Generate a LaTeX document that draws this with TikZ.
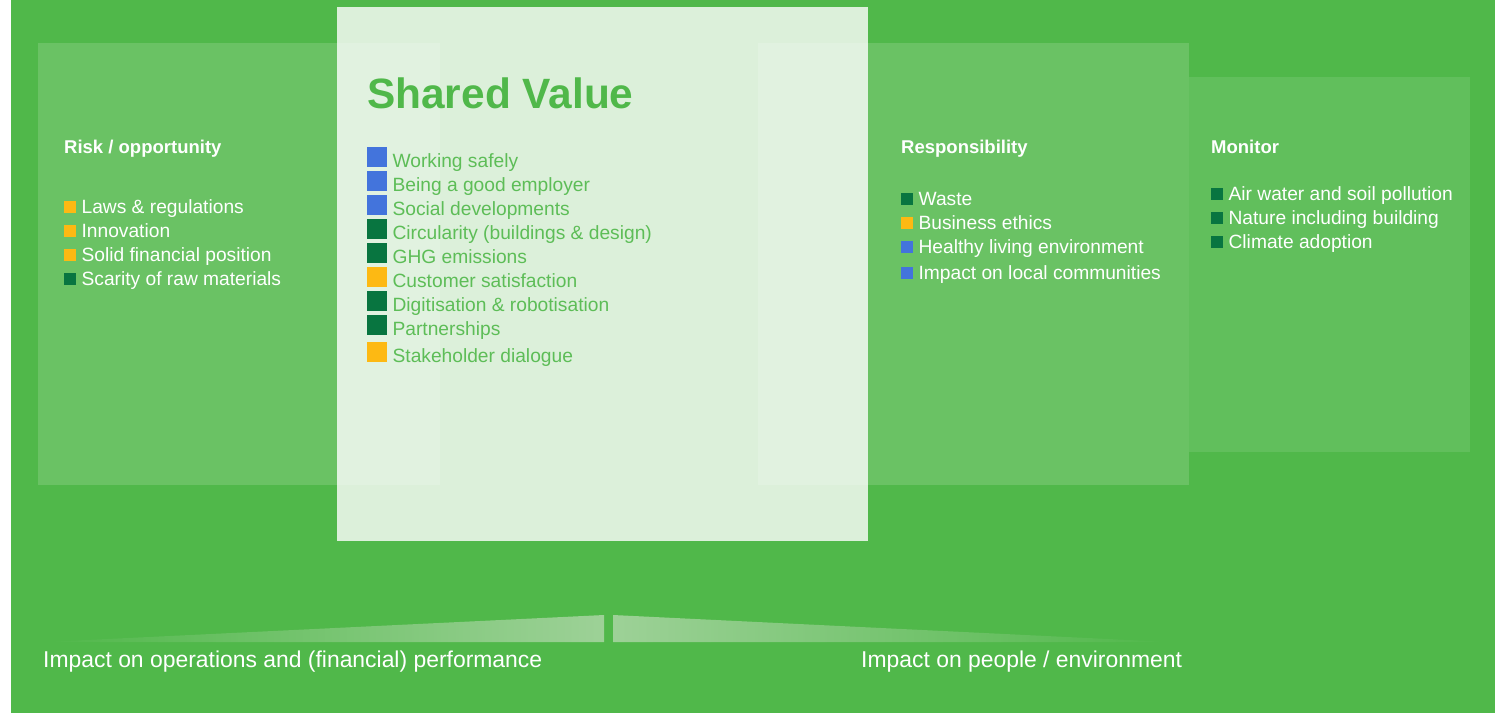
\documentclass[tikz,border=0pt]{standalone}
\usepackage{fontspec}
\setmainfont{Liberation Sans}
\usepackage{xcolor}
\usepackage{tikz}
\usetikzlibrary{positioning}

\definecolor{bggreen}{HTML}{50B84A}
\definecolor{dkgreen}{HTML}{087540}
\definecolor{sqblue}{HTML}{4374DC}
\definecolor{sqorange}{HTML}{FDB913}
\definecolor{svtext}{HTML}{5DBD57}
\definecolor{wedgelight}{HTML}{9DD197}

\tikzset{
    panel/.style = {fill = white, fill opacity = #1},
    head/.style = {anchor = base west, inner sep = 0pt, text = white,
        font = \fontsize{18.5}{20}\selectfont\bfseries},
    item/.style = {inner sep = 0pt, text = #1,
        font = \fontsize{19.2}{20}\selectfont},
    item/.default = white,
    dot/.style = {fill = #1, minimum size = 12pt, inner sep = 0pt, anchor = south west},
    bigdot/.style = {fill = #1, minimum size = 20pt, inner sep = 0pt, anchor = south west}
}

\begin{document}
\begin{tikzpicture}[x=1pt, y=-1pt]
        \useasboundingbox (0, 0) rectangle (1495, 713);
        \fill[bggreen] (11, 0) rectangle (1495, 713);

        % panels
        \fill[panel=0.15] (38, 43) rectangle (440, 485);
        \fill[panel=0.15] (758, 43) rectangle (1189, 485);
        \fill[panel=0.10] (1189, 77) rectangle (1470, 452);
        \fill[panel=0.80] (337, 7) rectangle (868, 541);

        % risk / opportunity
        \node[head] (risk) at (64, 153) {Risk / opportunity};
        \foreach \txt/\col [count=\i] in {Laws \& regulations/sqorange, Innovation/sqorange,
                Solid financial position/sqorange, Scarity of raw materials/dkgreen} {
            \node[dot=\col] (rsq\i) at (64, 189 + 24*\i) {};
            \node[item, right=5pt of rsq\i.south east, anchor=base west] (risk\i) {\txt};
        }

        % shared value
        \node[anchor = base west, inner sep = 0pt, text = bggreen,
            font = \fontsize{42.4}{44}\selectfont\bfseries] (sv) at (367, 108) {Shared Value};
        \foreach \txt/\col [count=\i] in {Working safely/sqblue, Being a good employer/sqblue,
                Social developments/sqblue, Circularity (buildings \& design)/dkgreen,
                GHG emissions/dkgreen, Customer satisfaction/sqorange,
                Digitisation \& robotisation/dkgreen, Partnerships/dkgreen} {
            \node[bigdot=\col] (svsq\i) at (367, 143 + 24*\i) {};
            \node[item=svtext, right=5pt of svsq\i.south east, anchor=base west] (sv\i) {\txt};
        }
        \node[bigdot=sqorange] (svsq9) at (367, 362) {};
        \node[item=svtext, right=5pt of svsq9.south east, anchor=base west] (sv9) {Stakeholder dialogue};

        % responsibility
        \node[head] (resp) at (901, 153) {Responsibility};
        \foreach \txt/\col/\y [count=\i] in {Waste/dkgreen/205, Business ethics/sqorange/229,
                Healthy living environment/sqblue/253, Impact on local communities/sqblue/279} {
            \node[dot=\col] (psq\i) at (901, \y) {};
            \node[item, right=5pt of psq\i.south east, anchor=base west] (resp\i) {\txt};
        }

        % monitor
        \node[head] (mon) at (1211, 153) {Monitor};
        \foreach \txt [count=\i] in {Air water and soil pollution, Nature including building,
                Climate adoption} {
            \node[dot=dkgreen] (msq\i) at (1211, 176 + 24*\i) {};
            \node[item, right=5pt of msq\i.south east, anchor=base west] (mon\i) {\txt};
        }

        % impact wedges
        \shade[left color = bggreen, right color = wedgelight]
            (45, 642) -- (604, 615) -- (604, 642) -- cycle;
        \shade[left color = wedgelight, right color = bggreen]
            (613, 615) -- (613, 642) -- (1170, 642) -- cycle;

        \node[item, anchor = base west, font = \fontsize{22.9}{24}\selectfont] (impops) at (43, 667)
            {Impact on operations and (financial) performance};
        \node[item, anchor = base west, font = \fontsize{22.9}{24}\selectfont] (imppeople) at (861, 667)
            {Impact on people / environment};
    \end{tikzpicture}
\end{document}
